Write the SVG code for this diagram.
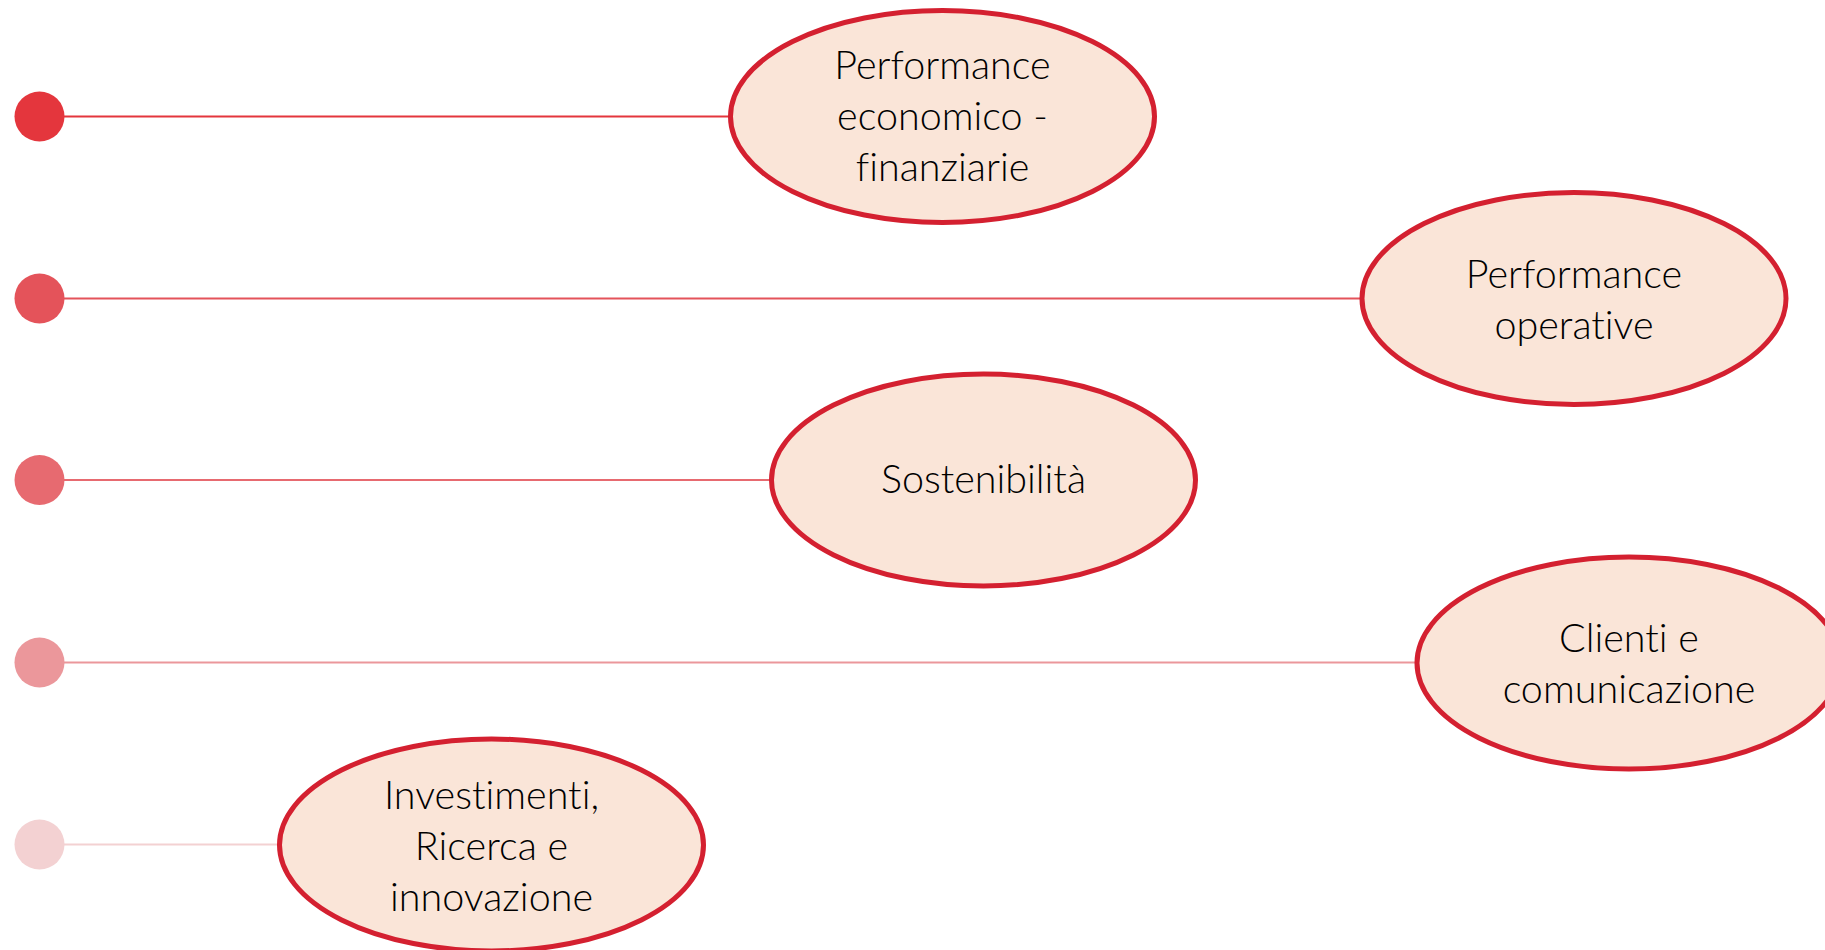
<svg xmlns="http://www.w3.org/2000/svg" width="1825" height="950" viewBox="0 0 1825 950">
<style>
.node ellipse{fill:#FAE5D8;stroke:#D42030;stroke-width:5}
.node text{font-family:Lato,"Liberation Sans",sans-serif;font-weight:300;font-size:39.5px;fill:#000;text-anchor:middle;font-variant-ligatures:none;font-feature-settings:"liga" 0}
.conn line{stroke-width:2}
</style>
<rect width="1825" height="950" fill="#fff"/>
<g id="connectors" class="conn">
<line x1="60" y1="116.5" x2="730" y2="116.5" stroke="#E4363D"/>
<line x1="60" y1="298.5" x2="1361" y2="298.5" stroke="#E4535A"/>
<line x1="60" y1="480" x2="771" y2="480" stroke="#E76A70"/>
<line x1="60" y1="662.5" x2="1417" y2="662.5" stroke="#EB979B"/>
<line x1="60" y1="844.5" x2="279" y2="844.5" stroke="#F3D1D2"/>
</g>
<g id="dots">
<circle cx="39.5" cy="116.5" r="25" fill="#E4363D"/>
<circle cx="39.5" cy="298.5" r="25" fill="#E4535A"/>
<circle cx="39.5" cy="480" r="25" fill="#E76A70"/>
<circle cx="39.5" cy="662.5" r="25" fill="#EB979B"/>
<circle cx="39.5" cy="844.5" r="25" fill="#F3D1D2"/>
</g>
<g id="n1" class="node">
<ellipse cx="942.5" cy="116.5" rx="212" ry="106"/>
<text x="942.5" y="79">Performance</text>
<text x="942.5" y="130">economico -</text>
<text x="942.5" y="181">finanziarie</text>
</g>
<g id="n2" class="node">
<ellipse cx="1574" cy="298.5" rx="212" ry="106"/>
<text x="1574" y="288">Performance</text>
<text x="1574" y="339">operative</text>
</g>
<g id="n3" class="node">
<ellipse cx="983.5" cy="480" rx="212" ry="106"/>
<text x="983.5" y="493">Sostenibilità</text>
</g>
<g id="n4" class="node">
<ellipse cx="1629" cy="663" rx="212" ry="106"/>
<text x="1629" y="652">Clienti e</text>
<text x="1629" y="703">comunicazione</text>
</g>
<g id="n5" class="node">
<ellipse cx="491.5" cy="845" rx="212" ry="106"/>
<text x="491.5" y="809">Investimenti,</text>
<text x="491.5" y="860">Ricerca e</text>
<text x="491.5" y="911">innovazione</text>
</g>
</svg>
